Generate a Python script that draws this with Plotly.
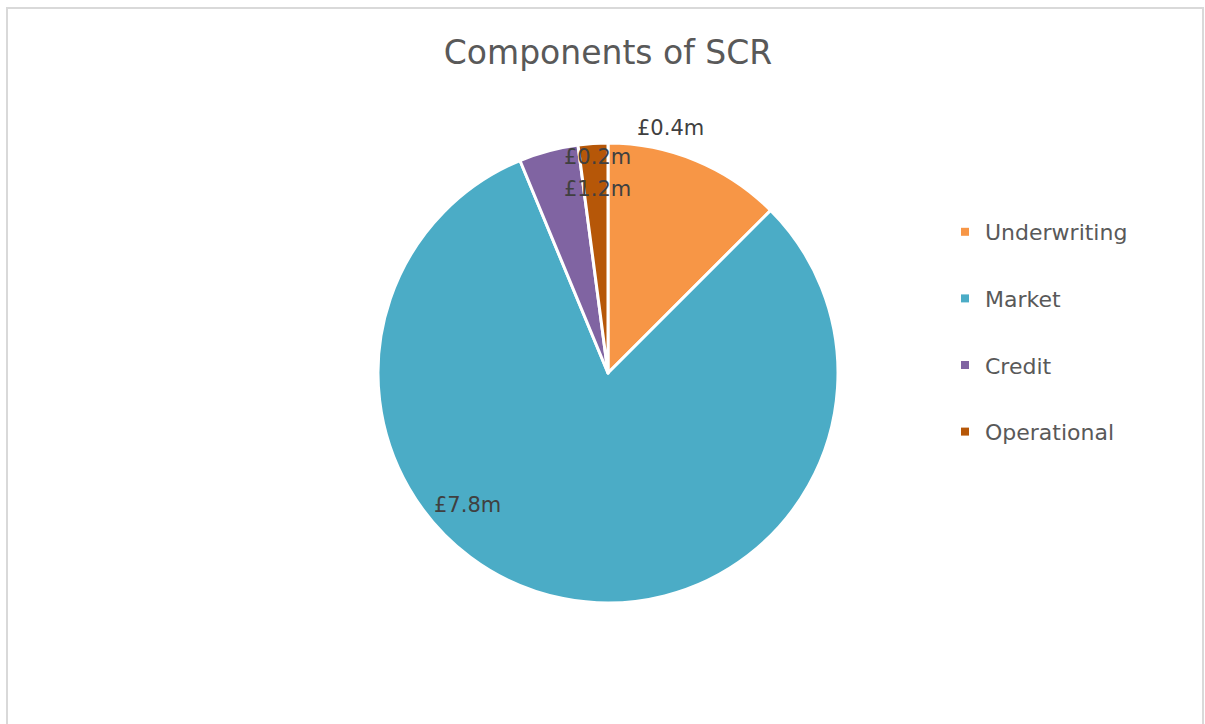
import plotly.graph_objects as go

categories = ["Underwriting", "Market", "Credit", "Operational"]
values = [1.2, 7.8, 0.4, 0.2]
colors = ["#F79646", "#4BACC6", "#8064A2", "#B65708"]
label_text = ["£1.2m", "£7.8m", "£0.4m", "£0.2m"]
# label anchor positions (pixels), as placed in the reference
label_px = [(597, 189), (467, 505), (670, 128), (597, 157)]

W, H = 1205, 724
cx, cy, r = 608, 373, 230
font = "'DejaVu Sans', sans-serif"
txt = "#595959"

fig = go.Figure()
fig.add_trace(go.Pie(
    labels=categories, values=values, sort=False, direction="clockwise", rotation=0,
    marker=dict(colors=colors, line=dict(color="white", width=3)),
    textinfo="none", hoverinfo="label+value", showlegend=False,
    domain=dict(x=[(cx-r)/W, (cx+r)/W], y=[(H-cy-r)/H, (H-cy+r)/H]),
))
for c, col in zip(categories, colors):
    fig.add_trace(go.Scatter(x=[None], y=[None], mode="markers", name=c,
                             marker=dict(symbol="square", size=8, color=col),
                             legendgroup=c, showlegend=True))

for t, (px, py) in zip(label_text, label_px):
    fig.add_annotation(x=px/W, y=1-py/H, xref="paper", yref="paper", text=t, showarrow=False,
                       font=dict(family=font, size=21, color="#404040"),
                       xanchor="center", yanchor="middle")

fig.add_shape(type="rect", xref="paper", yref="paper", x0=7/W, x1=1203/W, y0=-0.05, y1=1-8/H,
              line=dict(color="#D9D9D9", width=2), fillcolor="rgba(0,0,0,0)", layer="below")

fig.update_layout(
    width=W, height=H, margin=dict(l=0, r=0, t=0, b=0),
    paper_bgcolor="white", plot_bgcolor="white",
    title=dict(text="Components of SCR", x=cx/W, xanchor="center", y=1-52/H, yanchor="middle",
               font=dict(family=font, size=33, color=txt)),
    xaxis=dict(visible=False), yaxis=dict(visible=False),
    legend=dict(x=945/W, y=1-332/H, xanchor="left", yanchor="middle",
                font=dict(family=font, size=22, color=txt), tracegroupgap=35,
                itemclick=False, itemdoubleclick=False),
    showlegend=True,
)
fig.write_html("out.html", config={"displayModeBar": False},
               post_script="document.body.style.margin='0';")
